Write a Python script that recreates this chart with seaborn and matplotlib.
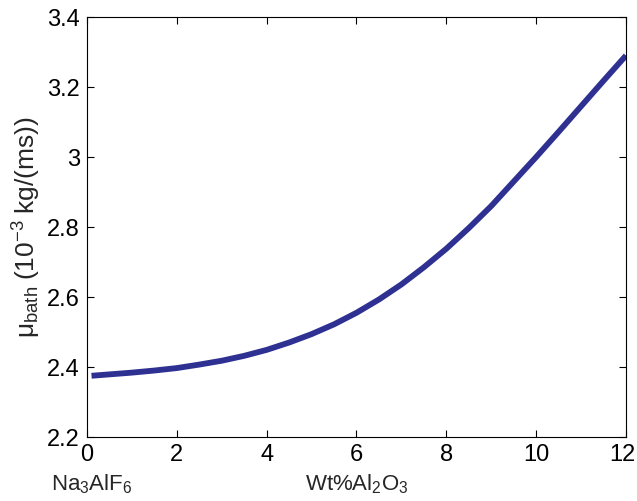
import numpy as np
import pandas as pd
import matplotlib
matplotlib.use("Agg")
import matplotlib.pyplot as plt
import matplotlib.transforms as mtransforms
import seaborn as sns

# values
wt_al2o3 = [0.1, 0.5, 1, 1.5, 2, 2.5, 3, 3.5, 4, 4.5, 5, 5.5, 6,
            6.5, 7, 7.5, 8, 8.5, 9, 9.5, 10, 10.5, 11, 11.5, 12]
mu_bath = [2.375, 2.379, 2.384, 2.39, 2.397, 2.407, 2.418, 2.432, 2.449,
           2.47, 2.494, 2.522, 2.555, 2.593, 2.636, 2.685, 2.738, 2.797,
           2.86, 2.93, 3.0, 3.072, 3.145, 3.218, 3.29]
x_ticks = [0, 2, 4, 6, 8, 10, 12]
y_ticks = [2.2, 2.4, 2.6, 2.8, 3.0, 3.2, 3.4]
y_ticklabels = ["2.2", "2.4", "2.6", "2.8", "3", "3.2", "3.4"]

sns.set_style("ticks")
plt.rcParams["font.family"] = ["Liberation Sans", "DejaVu Sans"]
plt.rcParams["mathtext.fontset"] = "custom"
plt.rcParams["mathtext.rm"] = "Liberation Sans"
plt.rcParams["mathtext.it"] = "Liberation Sans"
plt.rcParams["mathtext.default"] = "regular"

df = pd.DataFrame({"wt": wt_al2o3, "mu": mu_bath})

fig = plt.figure(figsize=(6.37, 5.01), dpi=100)
ax = fig.add_axes([0.1366, 0.1277, 0.8461, 0.8383])
sns.lineplot(data=df, x="wt", y="mu", color="#2E3192", linewidth=4.2, ax=ax,
             solid_joinstyle="round", solid_capstyle="butt")

ax.set_xlim(0, 12)
ax.set_ylim(2.2, 3.4)
ax.set_xticks(x_ticks)
ax.set_yticks(y_ticks)
ax.set_yticklabels(y_ticklabels)
ax.tick_params(direction="in", length=5, width=0.8, top=True, right=True,
               labelsize=17, colors="black", pad=5)
for s in ax.spines.values():
    s.set_color("black")
    s.set_linewidth(0.8)

# keep the last x label inside the canvas
last = ax.get_xticklabels()[-1]
last.set_transform(last.get_transform() +
                   mtransforms.ScaledTranslation(-4 / 100, 0, fig.dpi_scale_trans))

ax.set_xlabel("")
ax.set_ylabel(r"$\mu_{bath}\;(10^{-3}\;kg/(ms))$", fontsize=19, labelpad=3)
ax.text(0.5, -0.085, r"$Wt\%Al_2O_3$", transform=ax.transAxes, fontsize=16,
        ha="center", va="top")
ax.text(-0.066, -0.085, r"$Na_3AlF_6$", transform=ax.transAxes, fontsize=16,
        ha="left", va="top")

plt.savefig("out.png", dpi=100)
